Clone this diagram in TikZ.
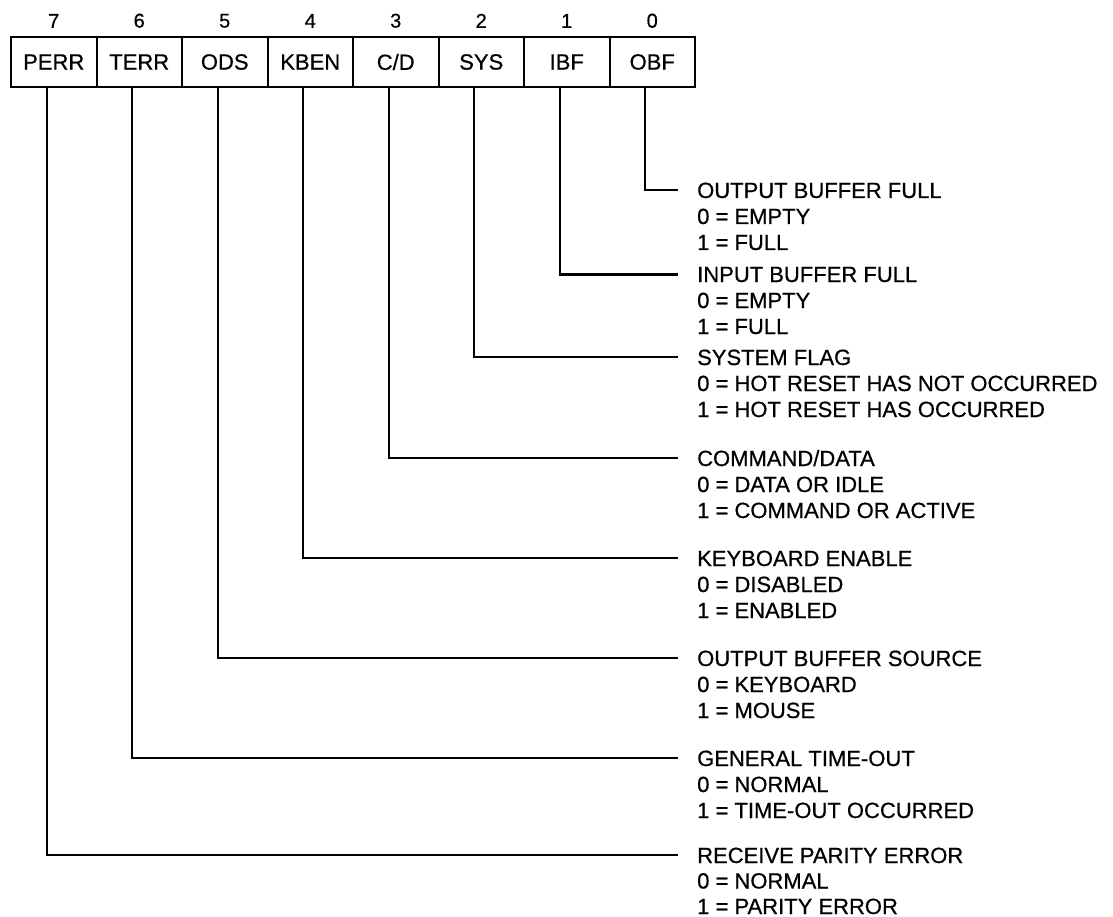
\documentclass[tikz,border=0pt]{standalone}
\usepackage{fontspec}
\setmainfont{Liberation Sans}[FakeBold=0.6]
\usetikzlibrary{positioning}

\begin{document}
\begin{tikzpicture}[x=1pt, y=-1pt,
    every node/.style={inner sep=0pt, font=\fontsize{22}{25.5}\selectfont},
    bitbox/.style={draw, line width=2pt, outer sep=0pt, minimum width=85.5pt, minimum height=50pt},
    bitnum/.style={font=\fontsize{20}{24}\selectfont},
    ttl/.style={anchor=base west, text depth=0pt},
    val/.style={anchor=base west},
    lead/.style={line width=2.2pt}]
  \useasboundingbox (0,0) rectangle (1113,917);

  % status register
  \node[bitbox] (perr) at (53.75,62) {PERR};
  \node[bitbox, right=0pt of perr] (terr) {TERR};
  \node[bitbox, right=0pt of terr] (ods) {ODS};
  \node[bitbox, right=0pt of ods] (kben) {KBEN};
  \node[bitbox, right=0pt of kben] (cd) {C/D};
  \node[bitbox, right=0pt of cd] (sys) {SYS};
  \node[bitbox, right=0pt of sys] (ibf) {IBF};
  \node[bitbox, right=0pt of ibf] (obf) {OBF};

  % bit numbers
  \node[bitnum, above=9pt of perr] (n7) {7};
  \node[bitnum, above=9pt of terr] (n6) {6};
  \node[bitnum, above=9pt of ods] (n5) {5};
  \node[bitnum, above=9pt of kben] (n4) {4};
  \node[bitnum, above=9pt of cd] (n3) {3};
  \node[bitnum, above=9pt of sys] (n2) {2};
  \node[bitnum, above=9pt of ibf] (n1) {1};
  \node[bitnum, above=9pt of obf] (n0) {0};

  % descriptions
  \node[ttl] (tobf) at (697,198) {OUTPUT BUFFER FULL};
  \node[val] (obfa) at (697,224) {0 = EMPTY};
  \node[val] (obfb) at (697,250) {1 = FULL};

  \node[ttl] (tibf) at (697,282) {INPUT BUFFER FULL};
  \node[val] (ibfa) at (697,308) {0 = EMPTY};
  \node[val] (ibfb) at (697,334) {1 = FULL};

  \node[ttl] (tsys) at (697,365) {SYSTEM FLAG};
  \node[val] (sysa) at (697,391) {0 = HOT RESET HAS NOT OCCURRED};
  \node[val] (sysb) at (697,417) {1 = HOT RESET HAS OCCURRED};

  \node[ttl] (tcd) at (697,466) {COMMAND/DATA};
  \node[val] (cda) at (697,492) {0 = DATA OR IDLE};
  \node[val] (cdb) at (697,518) {1 = COMMAND OR ACTIVE};

  \node[ttl] (tkben) at (697,566) {KEYBOARD ENABLE};
  \node[val] (kbena) at (697,592) {0 = DISABLED};
  \node[val] (kbenb) at (697,618) {1 = ENABLED};

  \node[ttl] (tods) at (697,666) {OUTPUT BUFFER SOURCE};
  \node[val] (odsa) at (697,692) {0 = KEYBOARD};
  \node[val] (odsb) at (697,718) {1 = MOUSE};

  \node[ttl] (tterr) at (697,766) {GENERAL TIME-OUT};
  \node[val] (terra) at (697,792) {0 = NORMAL};
  \node[val] (terrb) at (697,818) {1 = TIME-OUT OCCURRED};

  \node[ttl] (tperr) at (697,863) {RECEIVE PARITY ERROR};
  \node[val] (perra) at (697,888.5) {0 = NORMAL};
  \node[val] (perrb) at (697,914) {1 = PARITY ERROR};

  % leads
  \draw[lead] ([xshift=-7pt]obf.south) |- ([xshift=-19pt]tobf.west);
  \draw[lead] ([xshift=-7pt]ibf.south) |- ([xshift=-19pt]tibf.west);
  \draw[lead] ([xshift=-7pt]sys.south) |- ([xshift=-19pt]tsys.west);
  \draw[lead] ([xshift=-7pt]cd.south) |- ([xshift=-19pt]tcd.west);
  \draw[lead] ([xshift=-7pt]kben.south) |- ([xshift=-19pt]tkben.west);
  \draw[lead] ([xshift=-7pt]ods.south) |- ([xshift=-19pt]tods.west);
  \draw[lead] ([xshift=-7pt]terr.south) |- ([xshift=-19pt]tterr.west);
  \draw[lead] ([xshift=-7pt]perr.south) |- ([xshift=-19pt]tperr.west);
\end{tikzpicture}
\end{document}
